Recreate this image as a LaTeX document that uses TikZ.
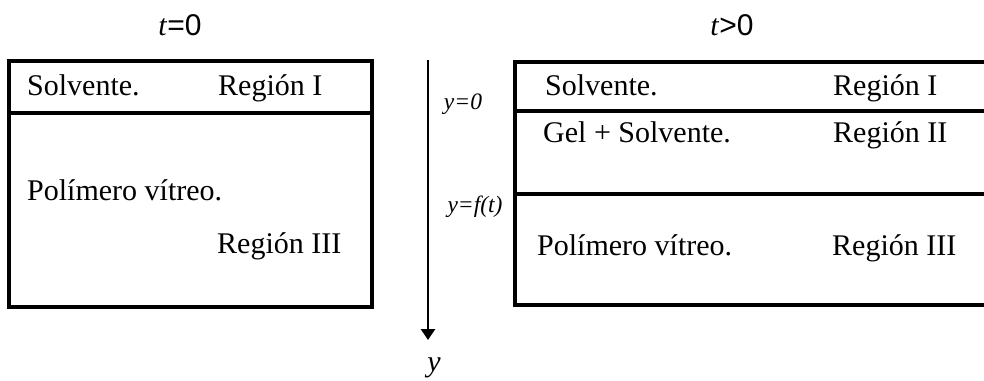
\documentclass[tikz,border=0pt]{standalone}
\usepackage{fontspec}
\setmainfont{Liberation Serif}
\newfontfamily\sansf{Liberation Sans}
\usetikzlibrary{arrows.meta}
\tikzset{
  lbl/.style={anchor=base west, inner sep=0pt, font=\fontsize{30}{36}\selectfont},
  small/.style={anchor=base, inner sep=0pt, font=\fontsize{23.5}{28}\selectfont\itshape},
  ttl/.style={anchor=base, inner sep=0pt, font=\fontsize{30}{36}\selectfont},
  boxline/.style={line width=3.2pt, line cap=rect},
  axis/.style={line width=2.6pt, -{Triangle[width=14pt,length=11pt]}}
}
\begin{document}
\begin{tikzpicture}[x=1pt,y=-1pt]
\useasboundingbox (0,0) rectangle (984,380);
% titles
\node[ttl] (t0) at (180,35) {\textit{t}{\sansf =0}};
\node[ttl] (t1) at (732,35) {\textit{t}{\sansf >0}};
% left box
\draw[boxline] (9,61) rectangle (372,307);
\draw[boxline] (9,113) -- (372,113);
\node[lbl] (ls) at (27,95) {Solvente.};
\node[lbl] (lr1) at (218,95) {Región I};
\node[lbl] (lp) at (27,200) {Polímero vítreo.};
\node[lbl] (lr3) at (217,253) {Región III};
% axis
\coordinate (atop) at (428,60);
\coordinate (atip) at (428,340);
\draw[axis] (atop) -- (atip);
\node[small] (y0) at (463,109) {y=0};
\node[small] (yf) at (475,212) {y=f(t)};
\node[anchor=base, inner sep=0pt, font=\fontsize{30}{36}\selectfont\itshape] (yl) at (434,371) {y};
% right box
\draw[boxline] (984,62) -- (515,62) -- (515,305) -- (984,305);
\draw[boxline] (515,111) -- (984,111);
\draw[boxline] (515,194) -- (984,194);
\node[lbl] (rs) at (545,95) {Solvente.};
\node[lbl] (rr1) at (833,95) {Región I};
\node[lbl] (rg) at (543,142) {Gel + Solvente.};
\node[lbl] (rr2) at (833,142) {Región II};
\node[lbl] (rp) at (537,255) {Polímero vítreo.};
\node[lbl] (rr3) at (832,255) {Región III};
\end{tikzpicture}
\end{document}
